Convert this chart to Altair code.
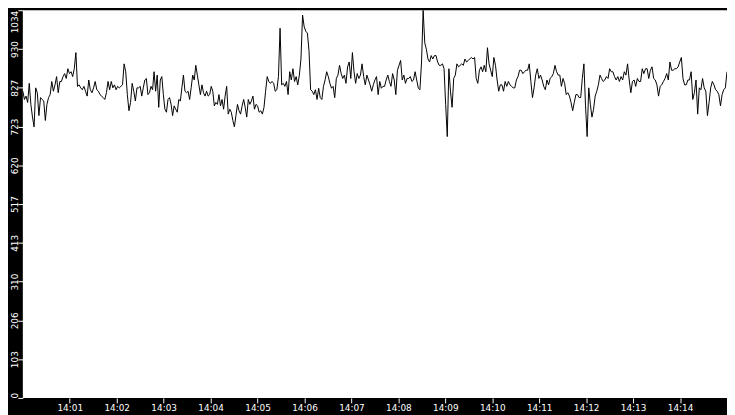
import altair as alt
import pandas as pd

# Values, in six consecutive 2.5-minute segments
seg1 = [818, 796, 805, 788, 839, 783, 749, 723, 827, 814, 753, 801, 796, 792, 740, 783, 801, 809,
        844, 818, 835, 857, 814, 844, 844, 857, 865, 852, 878, 865, 870, 857, 878, 921, 831, 835,
        827, 822, 831, 818, 805, 848, 822, 814, 827, 844, 822, 818, 809, 805, 801, 796, 814, 844,
        822, 844, 827, 835, 822, 831, 827, 831, 835, 891, 870, 809, 766, 788, 839, 818, 792, 827, 827]
seg2 = [831, 805, 827, 848, 852, 809, 814, 831, 822, 870, 818, 861, 775, 848, 857, 809, 770, 762,
        796, 801, 783, 753, 779, 770, 762, 796, 792, 827, 861, 818, 814, 818, 796, 827, 861, 848,
        887, 861, 835, 809, 835, 814, 805, 818, 805, 809, 831, 818, 779, 788, 783, 809, 779, 796,
        770, 805, 831, 757, 770, 762, 740, 723, 753, 783, 766, 757, 779, 796, 775, 749, 796, 783,
        792, 805, 770, 783]
seg3 = [779, 762, 766, 757, 775, 818, 857, 844, 839, 844, 839, 818, 822, 857, 986, 835, 839, 831,
        844, 809, 870, 848, 878, 844, 857, 835, 861, 904, 1021, 990, 978, 973, 926, 822, 818, 809,
        822, 796, 826, 801, 796, 831, 848, 870, 857, 839, 826, 831, 801, 852, 861, 887, 865, 852,
        861, 839, 883, 896, 852, 921, 870, 839, 865, 852, 861, 891, 857, 835, 861, 848, 835, 818, 835]
seg4 = [848, 857, 809, 844, 826, 831, 831, 848, 861, 844, 831, 865, 848, 809, 874, 887, 900, 848,
        861, 839, 852, 852, 857, 844, 848, 870, 848, 826, 822, 896, 1034, 947, 930, 904, 896, 913,
        904, 913, 913, 896, 887, 887, 891, 878, 783, 697, 878, 818, 775, 852, 861, 891, 883, 887,
        891, 887, 904, 896, 900, 904, 908, 904, 908, 852, 839, 874, 883, 870, 887, 870, 934, 891, 874]
seg5 = [857, 908, 887, 848, 818, 835, 835, 818, 844, 831, 844, 835, 831, 827, 827, 848, 857, 874,
        874, 865, 870, 874, 874, 891, 844, 801, 827, 861, 878, 852, 861, 848, 831, 822, 848, 835,
        852, 857, 865, 887, 870, 861, 861, 831, 852, 839, 809, 814, 805, 788, 766, 788, 809, 809,
        801, 801, 852, 891, 779, 697, 827, 783, 749, 770, 805, 818, 835, 861, 852, 844, 848, 857, 852]
seg6 = [878, 870, 870, 857, 848, 857, 844, 857, 848, 870, 861, 891, 848, 814, 844, 848, 831, 852,
        844, 844, 878, 865, 878, 878, 852, 874, 883, 852, 848, 835, 805, 831, 835, 844, 852, 865,
        848, 896, 874, 874, 878, 878, 883, 896, 908, 852, 835, 835, 848, 848, 870, 796, 814, 848,
        757, 827, 822, 852, 827, 818, 753, 788, 827, 844, 835, 822, 818, 809, 779, 809, 822, 827, 870]

segments = [seg1, seg2, seg3, seg4, seg5, seg6]
seg_bounds = ["14:00:00", "14:02:30", "14:05:00", "14:07:30", "14:10:00", "14:12:30", "14:15:00"]

x_ticks = ["14:01", "14:02", "14:03", "14:04", "14:05", "14:06", "14:07",
           "14:08", "14:09", "14:10", "14:11", "14:12", "14:13", "14:14"]
y_ticks = [0, 103.4, 206.8, 310.2, 413.6, 517, 620.4, 723.8, 827.2, 930.6, 1034]
DAY = "2024-01-01 "

times, values = [], []
for k, seg in enumerate(segments):
    start = pd.Timestamp(DAY + seg_bounds[k])
    end = pd.Timestamp(DAY + seg_bounds[k + 1])
    last = k == len(segments) - 1
    span_ms = (end - start) / pd.Timedelta(milliseconds=1)
    step_ms = span_ms / (len(seg) - 1 if last else len(seg))
    for i, v in enumerate(seg):
        t = start + pd.Timedelta(milliseconds=int(round(step_ms * i)))
        times.append(t.strftime("%Y-%m-%dT%H:%M:%S.") + f"{t.microsecond // 1000:03d}")
        values.append(v)
df = pd.DataFrame({"time": times, "value": values})


def dt(hm):
    h, m = hm.split(":")
    return alt.DateTime(year=2024, month=1, date=1, hours=int(h), minutes=int(m))


chart = alt.Chart(df).mark_line(color="black", strokeWidth=1, clip=True).encode(
    x=alt.X(
        "time:T",
        sort=None,
        scale=alt.Scale(domain=[dt("14:00"), dt("14:15")]),
        axis=alt.Axis(
            values=[dt(t) for t in x_ticks], format="%H:%M", title=None,
            labelColor="white", tickColor="white", tickSize=5, labelPadding=1,
            domain=False, grid=False, labelFont="DejaVu Sans", labelFontSize=9,
            minExtent=15, maxExtent=15, labelFlush=False,
        ),
    ),
    y=alt.Y(
        "value:Q",
        scale=alt.Scale(domain=[0, 1034], nice=False),
        axis=alt.Axis(
            values=y_ticks, labelExpr="'' + floor(datum.value)", title=None,
            labelAngle=270,
            labelAlign=alt.ExprRef("datum.value < 1 ? 'left' : (datum.value > 1000 ? 'right' : 'center')"),
            labelBaseline="alphabetic",
            labelColor="white", tickColor="white", tickSize=5, labelPadding=0,
            domain=False, grid=False, labelFont="DejaVu Sans", labelFontSize=9,
            minExtent=15, maxExtent=15,
        ),
    ),
).properties(
    width=712, height=392, background="black",
    padding={"left": 15, "top": 0, "right": 0, "bottom": 15},
    autosize=alt.AutoSizeParams(type="none"),
).configure_view(fill="white", strokeWidth=0)

chart.save("out.html", embed_options={"renderer": "svg", "actions": False})
